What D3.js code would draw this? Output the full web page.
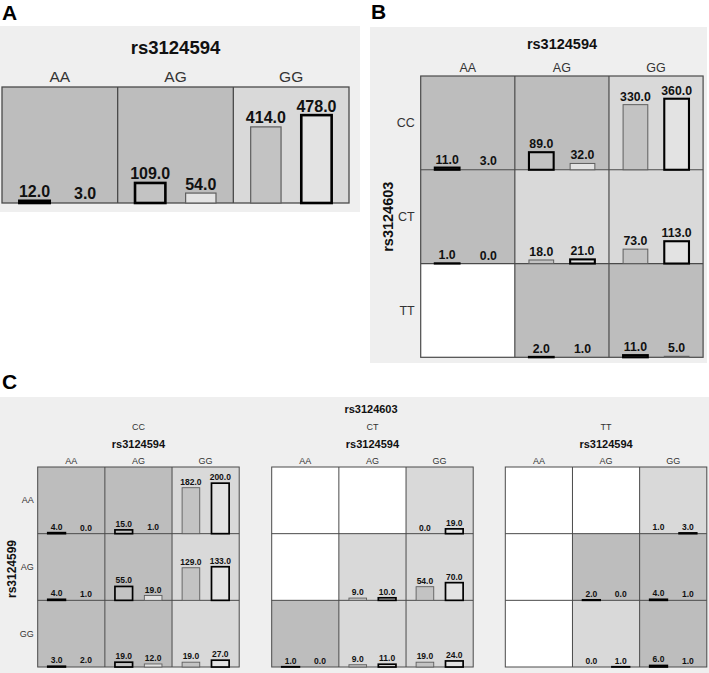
<!DOCTYPE html>
<html><head><meta charset="utf-8">
<script src="https://cdn.jsdelivr.net/npm/d3@7"></script>
<style>body{margin:0;background:#fff}svg{display:block}text{font-family:"Liberation Sans",Arial,sans-serif}</style>
</head><body><svg id="chart" width="709" height="673"></svg>
<script>
// ---------- data ----------
const cols594 = ["AA", "AG", "GG"];      // rs3124594 genotypes
const rows603 = ["CC", "CT", "TT"];      // rs3124603 genotypes
const rows599 = ["AA", "AG", "GG"];      // rs3124599 genotypes
// Panel A: cases / controls by rs3124594
const aCases = [12, 109, 414];
const aControls = [3, 54, 478];
// Panel B: rows rs3124603, cols rs3124594
const bCases = [[11, 89, 330], [1, 18, 73], [0, 2, 11]];
const bControls = [[3, 32, 360], [0, 21, 113], [0, 1, 5]];
// Panel C: rows rs3124599, cols rs3124594, one table per rs3124603 genotype
const cCasesCC = [[4, 15, 182], [4, 55, 129], [3, 19, 19]];
const cControlsCC = [[0, 1, 200], [1, 19, 133], [2, 12, 27]];
const cCasesCT = [[0, 0, 0], [0, 9, 54], [1, 9, 19]];
const cControlsCT = [[0, 0, 19], [0, 10, 70], [0, 11, 24]];
const cCasesTT = [[0, 0, 1], [0, 2, 4], [0, 0, 6]];
const cControlsTT = [[0, 0, 3], [0, 0, 1], [0, 1, 1]];

// ---------- drawing ----------
const svg = d3.select("#chart");
const DARK = "#bdbdbd", LIGHT = "#d9d9d9", BG = "#efefef";

function drawGrid(g, o) {
  const xs = d3.scaleBand().domain(o.cols).range([o.x, o.x + o.w]);
  const ys = d3.scaleBand().domain(o.rows).range([o.y, o.y + o.h]);
  const cw = xs.bandwidth(), ch = ys.bandwidth();
  const inner = d3.scaleBand().domain(["case", "control"]).range([0.15 * cw, 0.85 * cw]).paddingInner(0.4);
  const hy = d3.scaleLinear().domain([0, o.yMax]).range([0, ch]);
  const cells = g.append("g"), marks = g.append("g"), labels = g.append("g");
  o.rows.forEach((r, i) => o.cols.forEach((c, j) => {
    const vals = [o.cases[i][j], o.controls[i][j]];
    const cx = xs(c), cy = ys(r), bottom = cy + ch;
    const empty = vals[0] === 0 && vals[1] === 0;
    cells.append("rect").attr("x", cx).attr("y", cy).attr("width", cw).attr("height", ch)
      .attr("fill", empty ? "#ffffff" : (vals[0] > vals[1] ? DARK : LIGHT));
    if (empty) return;
    const big = vals[0] >= vals[1] ? 0 : 1;
    ["case", "control"].forEach((k, idx) => {
      const v = vals[idx], h = hy(v);
      const bx = cx + inner(k), bw = inner.bandwidth();
      const thick = idx === big;
      if (v > 0 && (thick || h >= 0.6)) {
        marks.append("rect").attr("x", bx).attr("y", bottom - h).attr("width", bw).attr("height", Math.max(h, 0.01))
          .attr("fill", idx === 0 ? "#c3c3c3" : "#e3e3e3")
          .attr("stroke", thick ? "#000" : "#5e5e5e")
          .attr("stroke-width", thick ? o.sw : o.tw);
      }
      labels.append("text").attr("x", bx + bw / 2).attr("y", bottom - h - o.gap)
        .attr("text-anchor", "middle").attr("font-weight", "bold").attr("font-size", o.fs)
        .attr("fill", "#111").text(v.toFixed(1));
    });
  }));
  // grid lines
  const lines = g.insert("g", () => marks.node()).attr("stroke", "#4a4a4a").attr("stroke-width", o.lw).attr("fill", "none");
  o.cols.slice(1).forEach(c => lines.append("line").attr("x1", xs(c)).attr("x2", xs(c)).attr("y1", o.y).attr("y2", o.y + o.h));
  o.rows.slice(1).forEach(r => lines.append("line").attr("y1", ys(r)).attr("y2", ys(r)).attr("x1", o.x).attr("x2", o.x + o.w));
  lines.append("rect").attr("x", o.x).attr("y", o.y).attr("width", o.w).attr("height", o.h);
  // column labels
  o.cols.forEach(c => g.append("text").attr("x", xs(c) + cw / 2).attr("y", o.colY)
    .attr("text-anchor", "middle").attr("font-size", o.hfs).attr("fill", "#333").text(c));
  if (o.rowLabels) o.rows.forEach(r => g.append("text").attr("x", o.x - o.rowGap).attr("y", ys(r) + ch / 2)
    .attr("dy", "0.35em").attr("text-anchor", "end").attr("font-size", o.hfs).attr("fill", "#333").text(r));
}

function letter(t, x, y) {
  svg.append("text").attr("x", x).attr("y", y).attr("font-weight", "bold").attr("font-size", 21).attr("fill", "#000").text(t);
}
function title(t, x, y, fs, rot) {
  const el = svg.append("text").attr("font-weight", "bold").attr("font-size", fs).attr("fill", "#111")
    .attr("text-anchor", "middle").text(t);
  if (rot) el.attr("transform", `translate(${x},${y}) rotate(-90)`);
  else el.attr("x", x).attr("y", y);
}
function label(t, x, y, fs) {
  svg.append("text").attr("x", x).attr("y", y).attr("font-size", fs).attr("fill", "#333").attr("text-anchor", "middle").text(t);
}

// ----- Panel A -----
letter("A", 2, 20);
svg.append("rect").attr("x", 0).attr("y", 26).attr("width", 360).attr("height", 186).attr("fill", BG);
title("rs3124594", 175.5, 54, 18.5);
const maxA = d3.max(aCases.concat(aControls));
drawGrid(svg.append("g"), {
  x: 2, y: 87, w: 347, h: 116, rows: [""], cols: cols594, cases: [aCases], controls: [aControls],
  yMax: maxA * 1.32, fs: 16, gap: 3.5, sw: 2.6, tw: 1.2, lw: 1.3, colY: 82, hfs: 15.5, rowLabels: false
});

// ----- Panel B -----
letter("B", 371, 19);
svg.append("rect").attr("x", 370).attr("y", 27).attr("width", 337).attr("height", 336).attr("fill", BG);
title("rs3124594", 562, 48.5, 14.5);
title("rs3124603", 393, 216.7, 14.5, true);
const maxB = d3.max(bCases.flat().concat(bControls.flat()));
drawGrid(svg.append("g"), {
  x: 420.7, y: 76, w: 282.4, h: 281.3, rows: rows603, cols: cols594, cases: bCases, controls: bControls,
  yMax: maxB * 1.32, fs: 12.3, gap: 4, sw: 2.1, tw: 1, lw: 1.2, colY: 71.5, hfs: 12.5, rowLabels: true, rowGap: 6
});

// ----- Panel C -----
letter("C", 2, 389);
svg.append("rect").attr("x", 0).attr("y", 397).attr("width", 709).attr("height", 276).attr("fill", BG);
const cSets = [
  { g: "CC", cases: cCasesCC, controls: cControlsCC, x: 37.7 },
  { g: "CT", cases: cCasesCT, controls: cControlsCT, x: 271.7 },
  { g: "TT", cases: cCasesTT, controls: cControlsTT, x: 505.3 }
];
const maxC = d3.max(cSets.flatMap(s => s.cases.flat().concat(s.controls.flat())));
title("rs3124603", 371, 412.5, 11);
title("rs3124599", 16, 569, 12, true);
cSets.forEach((s, k) => {
  const w = 201.5;
  label(rows603[k], s.x + w / 2, 429.5, 9);
  title("rs3124594", s.x + w / 2, 448, 11);
  drawGrid(svg.append("g"), {
    x: s.x, y: 467, w: w, h: 200, rows: rows599, cols: cols594, cases: s.cases, controls: s.controls,
    yMax: maxC * 1.32, fs: 8.5, gap: 3, sw: 1.7, tw: 0.9, lw: 1, colY: 464, hfs: 9, rowLabels: k === 0, rowGap: 4
  });
});
</script></body></html>
